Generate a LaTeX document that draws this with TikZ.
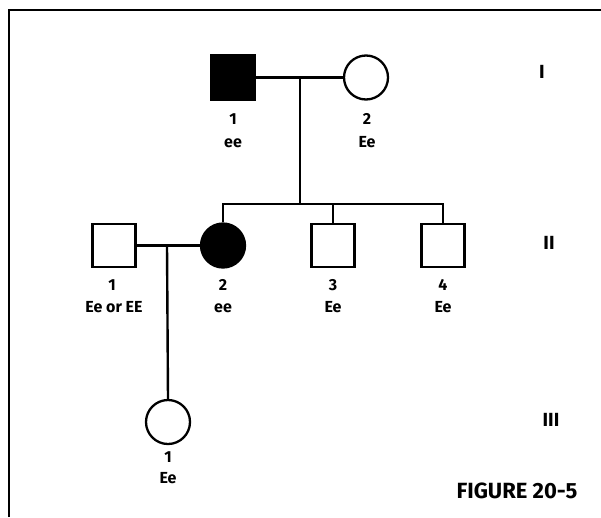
\documentclass[tikz,border=0pt]{standalone}
\usepackage{fontspec}
\setmainfont{Fira Sans}
\begin{document}
\begin{tikzpicture}[x=1pt,y=-1pt,
  sq/.style={draw,line width=2.3pt,rectangle,minimum size=43pt,inner sep=0pt},
  ci/.style={draw,line width=2.3pt,circle,minimum size=44pt,inner sep=0pt},
  aff/.style={fill=black},
  ln/.style={line width=2.4pt},
  lab/.style={font=\bfseries\fontsize{16}{16}\selectfont,anchor=base,inner sep=0pt},
  gen/.style={font=\bfseries\fontsize{19}{19}\selectfont,inner sep=0pt},
]
\useasboundingbox (0,0) rectangle (601,517);
% frame
\coordinate (fb) at (9,517);
\coordinate (fc) at (9,10);
\coordinate (fr) at (601,10);
\draw[line width=2.8pt] (fb) -- (fc) -- (fr);

% generation I
\node[sq,aff,minimum size=44pt] (I1) at (233,77.5) {};
\node[ci] (I2) at (366,77.5) {};
\node[lab] (I1n) at (233,124) {1};
\node[lab] (I1g) at (233,147) {ee};
\node[lab] (I2n) at (367,124) {2};
\node[lab] (I2g) at (367,147) {Ee};

% generation II
\node[sq] (II1) at (114,245.5) {};
\node[ci,aff] (II2) at (223,245.5) {};
\node[sq] (II3) at (333,245.5) {};
\node[sq] (II4) at (443,245.5) {};
\node[lab] (II1n) at (112,290) {1};
\node[lab] (II1g) at (114,312) {Ee or EE};
\node[lab] (II2n) at (223,290) {2};
\node[lab] (II2g) at (223,312) {ee};
\node[lab] (II3n) at (333,290) {3};
\node[lab] (II3g) at (333,312) {Ee};
\node[lab] (II4n) at (443,290) {4};
\node[lab] (II4g) at (443,312) {Ee};

% generation III
\node[ci] (III1) at (168,422) {};
\node[lab] (III1n) at (168,462) {1};
\node[lab] (III1g) at (168,483) {Ee};

% generation labels
\node[gen] (gI) at (542,72) {I};
\node[gen] (gII) at (549,243) {II};
\node[gen] (gIII) at (551,420) {III};
\node[font=\bfseries\fontsize{22}{22}\selectfont,inner sep=0pt] (fig) at (517,491) {FIGURE 20-5};

% connectors
\coordinate (m1) at (300,77.5);
\coordinate (s1) at (300,204);
\draw[ln] (I1.east) -- (I2.west);
\draw[ln] (m1) -- (s1);
\draw[ln] (II2.north) -- (II2.north |- s1) -- (II4.north |- s1) -- (II4.north);
\draw[ln] (II3.north |- s1) -- (II3.north);
\draw[ln] (II1.east) -- (II2.west);
\coordinate (m2) at (167,245.5);
\draw[ln] (m2) -- (III1.north);
\end{tikzpicture}
\end{document}
